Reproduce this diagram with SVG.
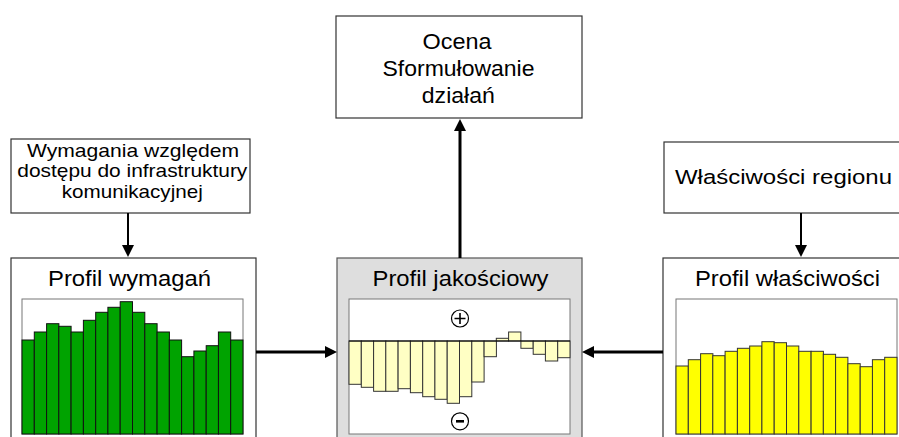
<svg xmlns="http://www.w3.org/2000/svg" width="899" height="437" viewBox="0 0 899 437">
<style>
.t{font-family:"Liberation Sans",Arial,sans-serif;fill:#000;text-anchor:middle}
.box{fill:#fff;stroke:#333;stroke-width:1.2}
.chart{fill:#fff;stroke:#777;stroke-width:1}
.g rect{fill:#00a300;stroke:#111;stroke-width:1}
.y rect{fill:#ffff00;stroke:#333;stroke-width:1}
.ly rect{fill:#ffffc4;stroke:#333;stroke-width:1}
.c{stroke:#000;fill:none}
</style>
<defs>
<marker id="ah" viewBox="0 0 12 12" refX="1" refY="6" markerWidth="12" markerHeight="12" markerUnits="userSpaceOnUse" orient="auto">
<path d="M0,0 L12,6 L0,12 z" fill="#000"/>
</marker>
</defs>

<g id="ocena">
<rect class="box" x="336" y="16" width="246" height="102"/>
<text class="t" x="457" y="48.5" font-size="22" textLength="69" lengthAdjust="spacingAndGlyphs">Ocena</text>
<text class="t" x="458.5" y="76" font-size="22" textLength="152" lengthAdjust="spacingAndGlyphs">Sformułowanie</text>
<text class="t" x="458.3" y="103" font-size="22" textLength="73" lengthAdjust="spacingAndGlyphs">działań</text>
</g>

<g id="wymagania">
<rect class="box" x="11" y="139" width="239" height="74"/>
<text class="t" x="133" y="156.5" font-size="18.6" textLength="212" lengthAdjust="spacingAndGlyphs">Wymagania względem</text>
<text class="t" x="132.3" y="177.4" font-size="18.6" textLength="230" lengthAdjust="spacingAndGlyphs">dostępu do infrastruktury</text>
<text class="t" x="132.3" y="198.2" font-size="18.6" textLength="141" lengthAdjust="spacingAndGlyphs">komunikacyjnej</text>
</g>

<g id="wlasciwosci-regionu">
<rect class="box" x="664" y="142" width="250" height="71"/>
<text class="t" x="783.5" y="184.3" font-size="20.5" textLength="217" lengthAdjust="spacingAndGlyphs">Właściwości regionu</text>
</g>

<g id="profil-wymagan">
<rect class="box" x="11" y="258" width="245" height="190"/>
<text class="t" x="129.5" y="285.7" font-size="22" textLength="163" lengthAdjust="spacingAndGlyphs">Profil wymagań</text>
<rect class="chart" x="22" y="299" width="221" height="135"/>
<g class="g" transform="translate(22,0)">
<rect x="0" y="340" width="12.3" height="94"/>
<rect x="12.3" y="332" width="12.3" height="102"/>
<rect x="24.6" y="323.7" width="12.3" height="110.3"/>
<rect x="36.8" y="326.3" width="12.3" height="107.7"/>
<rect x="49.1" y="332" width="12.3" height="102"/>
<rect x="61.4" y="320.3" width="12.3" height="113.7"/>
<rect x="73.7" y="312.3" width="12.3" height="121.7"/>
<rect x="85.9" y="307.3" width="12.3" height="126.7"/>
<rect x="98.2" y="301.7" width="12.3" height="132.3"/>
<rect x="110.5" y="312.3" width="12.3" height="121.7"/>
<rect x="122.8" y="323.7" width="12.3" height="110.3"/>
<rect x="135.1" y="332" width="12.3" height="102"/>
<rect x="147.3" y="340" width="12.3" height="94"/>
<rect x="159.6" y="356.7" width="12.3" height="77.3"/>
<rect x="171.9" y="351" width="12.3" height="83"/>
<rect x="184.2" y="345.7" width="12.3" height="88.3"/>
<rect x="196.4" y="332" width="12.3" height="102"/>
<rect x="208.7" y="340" width="12.3" height="94"/>
</g>
</g>

<g id="profil-jakosciowy">
<rect x="337" y="258" width="245" height="190" fill="#dedede" stroke="#555" stroke-width="1.2"/>
<text class="t" x="460.5" y="285.7" font-size="22" textLength="176" lengthAdjust="spacingAndGlyphs">Profil jakościowy</text>
<rect class="chart" x="349" y="299" width="221" height="135"/>
<g class="ly" transform="translate(349,0)">
<rect x="0" y="341" width="12.3" height="43.3"/>
<rect x="12.3" y="341" width="12.3" height="46.3"/>
<rect x="24.6" y="341" width="12.3" height="50.3"/>
<rect x="36.8" y="341" width="12.3" height="50.3"/>
<rect x="49.1" y="341" width="12.3" height="47.7"/>
<rect x="61.4" y="341" width="12.3" height="51.7"/>
<rect x="73.7" y="341" width="12.3" height="55.7"/>
<rect x="85.9" y="341" width="12.3" height="58.3"/>
<rect x="98.2" y="341" width="12.3" height="62.3"/>
<rect x="110.5" y="341" width="12.3" height="55.7"/>
<rect x="122.8" y="341" width="12.3" height="41"/>
<rect x="135.1" y="341" width="12.3" height="15.7"/>
<rect x="147.3" y="338.3" width="12.3" height="2.7"/>
<rect x="159.6" y="332" width="12.3" height="9"/>
<rect x="171.9" y="341" width="12.3" height="7.3"/>
<rect x="184.2" y="341" width="12.3" height="13.3"/>
<rect x="196.4" y="341" width="12.3" height="20"/>
<rect x="208.7" y="341" width="12.3" height="16.7"/>
</g>
<line x1="349" y1="341" x2="570" y2="341" stroke="#000" stroke-width="1.2"/>
<circle cx="460" cy="318.5" r="8.5" fill="#fff" stroke="#000" stroke-width="1.2"/>
<path d="M454.5,318.5 H465.5 M460,313 V324" stroke="#000" stroke-width="1.6"/>
<circle cx="460" cy="421.3" r="8.5" fill="#fff" stroke="#000" stroke-width="1.2"/>
<path d="M456,421.3 H464" stroke="#000" stroke-width="2.6"/>
</g>

<g id="profil-wlasciwosci">
<rect class="box" x="663" y="258" width="250" height="190"/>
<text class="t" x="787.5" y="285.7" font-size="22" textLength="185" lengthAdjust="spacingAndGlyphs">Profil właściwości</text>
<rect class="chart" x="676" y="299" width="221" height="135"/>
<g class="y" transform="translate(676,0)">
<rect x="0" y="366" width="12.3" height="68"/>
<rect x="12.3" y="359.7" width="12.3" height="74.3"/>
<rect x="24.6" y="353.7" width="12.3" height="80.3"/>
<rect x="36.8" y="355.7" width="12.3" height="78.3"/>
<rect x="49.1" y="351.3" width="12.3" height="82.7"/>
<rect x="61.4" y="348.3" width="12.3" height="85.7"/>
<rect x="73.7" y="346" width="12.3" height="88"/>
<rect x="85.9" y="341.7" width="12.3" height="92.3"/>
<rect x="98.2" y="342.7" width="12.3" height="91.3"/>
<rect x="110.5" y="346" width="12.3" height="88"/>
<rect x="122.8" y="351.3" width="12.3" height="82.7"/>
<rect x="135.1" y="351.3" width="12.3" height="82.7"/>
<rect x="147.3" y="354.3" width="12.3" height="79.7"/>
<rect x="159.6" y="357.3" width="12.3" height="76.7"/>
<rect x="171.9" y="363.7" width="12.3" height="70.3"/>
<rect x="184.2" y="366.7" width="12.3" height="67.3"/>
<rect x="196.4" y="359.7" width="12.3" height="74.3"/>
<rect x="208.7" y="357.3" width="12.3" height="76.7"/>
</g>
</g>

<g id="connectors">
<line class="c" x1="128" y1="213" x2="128" y2="246" stroke-width="2" marker-end="url(#ah)"/>
<line class="c" x1="801" y1="213" x2="801" y2="246" stroke-width="2" marker-end="url(#ah)"/>
<line class="c" x1="460" y1="258" x2="460" y2="130" stroke-width="3" marker-end="url(#ah)"/>
<line class="c" x1="256" y1="352" x2="326" y2="352" stroke-width="3" marker-end="url(#ah)"/>
<line class="c" x1="663" y1="352" x2="593" y2="352" stroke-width="3" marker-end="url(#ah)"/>
</g>
</svg>
